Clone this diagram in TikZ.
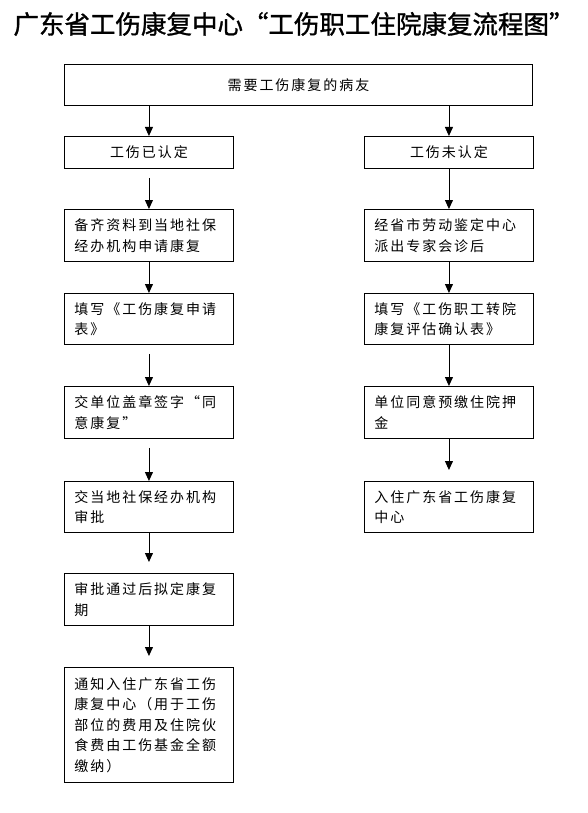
\documentclass[tikz,border=0pt]{standalone}
\usepackage{fontspec}
\usepackage{tikz}
\usetikzlibrary{arrows.meta}
\newfontfamily\titlefont[FakeBold=1.2]{Noto Sans CJK SC}
\newfontfamily\boxfont[LetterSpace=14]{Noto Sans CJK SC}

\begin{document}
\begin{tikzpicture}[x=1pt, y=-1pt,
  stepbox/.style={draw, line width=0.9pt, rectangle, anchor=north west, inner xsep=10pt, inner ysep=0pt,
    minimum width=169pt, text width=149pt, align=left, font=\boxfont\fontsize{14}{20.5}\selectfont},
  midbox/.style={stepbox, align=center},
  flow/.style={-{Triangle[length=9pt,width=8pt]}, line width=0.9pt},
  latestart/.style={shorten <=9pt},
  earlyend/.style={shorten >=11pt}]
  \useasboundingbox (0,0) rectangle (588,813);

  % Title
  \node[font=\titlefont\fontsize{25.5}{28}\selectfont, inner sep=0pt] (title) at (294,24) {广东省工伤康复中心“工伤职工住院康复流程图”};

  % Start box
  \node[stepbox, minimum width=468pt, text width=448pt, minimum height=41pt, align=center] (patient) at (64,64) {需要工伤康复的病友};

  % Left column: injury already recognised
  \node[midbox, minimum height=32pt] (L1) at (64,136) {工伤已认定};
  \node[stepbox, minimum height=52pt] (L2) at (64,209) {备齐资料到当地社保\\经办机构申请康复};
  \node[stepbox, minimum height=51pt] (L3) at (64,293) {填写《工伤康复申请\\表》};
  \node[stepbox, minimum height=52pt] (L4) at (64,386) {交单位盖章签字“同\\意康复”};
  \node[stepbox, minimum height=51pt] (L5) at (64,481) {交当地社保经办机构\\审批};
  \node[stepbox, minimum height=52pt] (L6) at (64,573) {审批通过后拟定康复\\期};
  \node[stepbox, minimum height=115pt] (L7) at (64,667) {通知入住广东省工伤\\康复中心（用于工伤\\部位的费用及住院伙\\食费由工伤基金全额\\缴纳）};

  % Right column: injury not recognised
  \node[midbox, minimum height=32pt] (R1) at (364,136) {工伤未认定};
  \node[stepbox, minimum height=52pt] (R2) at (364,209) {经省市劳动鉴定中心\\派出专家会诊后};
  \node[stepbox, minimum height=51pt] (R3) at (364,293) {填写《工伤职工转院\\康复评估确认表》};
  \node[stepbox, minimum height=52pt] (R4) at (364,386) {单位同意预缴住院押\\金};
  \node[stepbox, minimum height=51pt] (R5) at (364,481) {入住广东省工伤康复\\中心};

  % Arrows
  \draw[flow] (patient.south -| L1.north) -- (L1.north);
  \draw[flow] (patient.south -| R1.north) -- (R1.north);
  \draw[flow, latestart] (L1) -- (L2);
  \draw[flow] (L2) -- (L3);
  \draw[flow, latestart] (L3) -- (L4);
  \draw[flow, latestart] (L4) -- (L5);
  \draw[flow, earlyend] (L5) -- (L6);
  \draw[flow, earlyend] (L6) -- (L7);
  \draw[flow] (R1) -- (R2);
  \draw[flow] (R2) -- (R3);
  \draw[flow] (R3) -- (R4);
  \draw[flow, earlyend] (R4) -- (R5);
\end{tikzpicture}
\end{document}
